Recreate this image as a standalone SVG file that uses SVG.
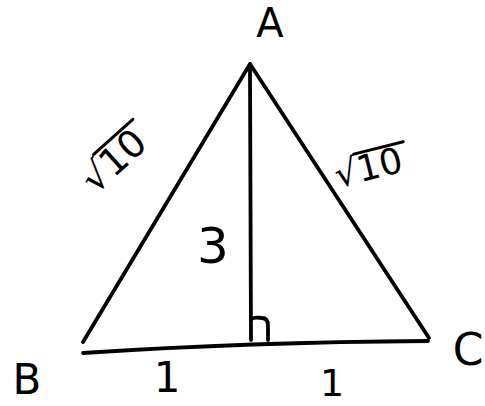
<svg xmlns="http://www.w3.org/2000/svg" width="485" height="406" viewBox="0 0 485 406">
<style>
.ln{fill:none;stroke:#000;stroke-width:3.8;stroke-linecap:round;stroke-linejoin:round}
.ov{fill:none;stroke:#000;stroke-width:3;stroke-linecap:round}
.t{font-family:"DejaVu Sans","Liberation Sans",sans-serif;fill:#000}
</style>
<rect width="485" height="406" fill="#fff"/>
<g id="connectors">
<path class="ln" d="M250,64 L83,342"/>
<path class="ln" d="M250,64 L429,338"/>
<path class="ln" d="M83,353 Q250,342 428,341"/>
<path class="ln" d="M250,70 L251,340"/>
<path class="ln" d="M251,320 Q252,317 262,318 Q268,318 268,326 L268,340"/>
</g>
<g id="A"><text class="t" x="270" y="37" font-size="40" text-anchor="middle">A</text></g>
<g id="B"><text class="t" x="27" y="394" font-size="42" text-anchor="middle">B</text></g>
<g id="C"><text class="t" x="468" y="365" font-size="44" text-anchor="middle">C</text></g>
<g id="label-1-left"><text class="t" x="167" y="392" font-size="42" text-anchor="middle">1</text></g>
<g id="label-1-right"><text class="t" x="332" y="396" font-size="38" text-anchor="middle">1</text></g>
<g id="label-3"><text class="t" x="213" y="263" font-size="50" text-anchor="middle">3</text></g>
<g id="label-sqrt10-left" transform="translate(113,160) rotate(-42)">
<text class="t" x="0" y="14" font-size="38" text-anchor="middle">√10</text>
<path class="ov" d="M-11,-17 L42,-17"/>
</g>
<g id="label-sqrt10-right" transform="translate(368,166) rotate(-14)">
<text class="t" x="0" y="14" font-size="36" text-anchor="middle">√10</text>
<path class="ov" d="M-11,-15 L40,-15"/>
</g>
</svg>
